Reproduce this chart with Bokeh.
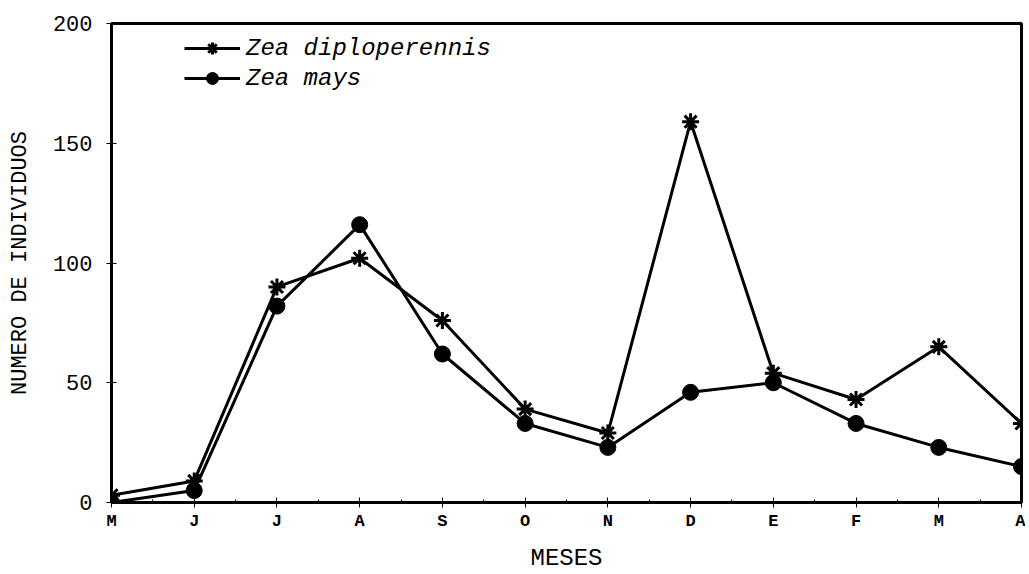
from bokeh.plotting import figure
from bokeh.models import FixedTicker, Legend, LegendItem
from bokeh.embed import file_html
from bokeh.resources import INLINE

months = ["M", "J", "J", "A", "S", "O", "N", "D", "E", "F", "M", "A"]
diploperennis = [3, 9, 90, 102, 76, 39, 29, 159, 54, 43, 65, 33]
mays = [0, 5, 82, 116, 62, 33, 23, 46, 50, 33, 23, 15]
y_ticks = [0, 50, 100, 150, 200]

xs = list(range(len(months)))

p = figure(width=1025, height=574, x_range=(0, 11), y_range=(0, 200),
           output_backend="svg", toolbar_location=None,
           min_border_left=111, min_border_right=4, min_border_top=23, min_border_bottom=72)
p.grid.visible = False
p.outline_line_color = "black"
p.outline_line_width = 3
p.background_fill_color = "white"
p.border_fill_color = "white"

FONT = "Liberation Mono"
p.xaxis.ticker = FixedTicker(ticks=xs, minor_ticks=[i + 0.5 for i in range(11)])
p.xaxis.major_label_overrides = {i: m for i, m in enumerate(months)}
p.yaxis.ticker = FixedTicker(ticks=y_ticks, minor_ticks=[])
for ax in (p.xaxis[0], p.yaxis[0]):
    ax.axis_line_width = 3
    ax.axis_line_color = "black"
    ax.major_tick_in = 5
    ax.major_tick_out = 5
    ax.major_tick_line_width = 1
    ax.minor_tick_in = 3
    ax.minor_tick_out = 0
    ax.major_label_text_font = FONT
    ax.axis_label_text_font = FONT
    ax.axis_label_text_font_style = "normal"
    ax.axis_label_text_color = "black"
    ax.major_label_text_color = "black"

p.xaxis.major_label_text_font_size = "17px"
p.xaxis.major_label_text_font_style = "bold"
p.xaxis.major_label_standoff = 4
p.xaxis.axis_label = "MESES"
p.xaxis.axis_label_text_font_size = "24px"
p.xaxis.axis_label_standoff = 11

p.yaxis.major_label_text_font_size = "22px"
p.yaxis.major_label_standoff = 14
p.yaxis.axis_label = "NUMERO DE INDIVIDUOS"
p.yaxis.axis_label_text_font_size = "22px"
p.yaxis.axis_label_standoff = 17

l1 = p.line(xs, diploperennis, line_color="black", line_width=3)
s1 = p.scatter(xs, diploperennis, marker="asterisk", size=17, line_color="black", line_width=3)
l2 = p.line(xs, mays, line_color="black", line_width=3)
s2 = p.scatter(xs, mays, marker="circle", size=16, fill_color="black", line_color="black")

legend = Legend(items=[
    LegendItem(label="Zea diploperennis", renderers=[l1, s1]),
    LegendItem(label="Zea mays", renderers=[l2, s2]),
], location=(73, 409))
legend.label_text_font = FONT
legend.label_text_font_style = "italic"
legend.label_text_font_size = "24px"
legend.label_text_color = "black"
legend.glyph_width = 56
legend.glyph_height = 30
legend.label_height = 30
legend.label_standoff = 6
legend.spacing = 0
legend.padding = 0
legend.margin = 0
legend.border_line_color = None
legend.background_fill_alpha = 0
p.add_layout(legend, "center")

open("out.html", "w").write(file_html(p, INLINE))
